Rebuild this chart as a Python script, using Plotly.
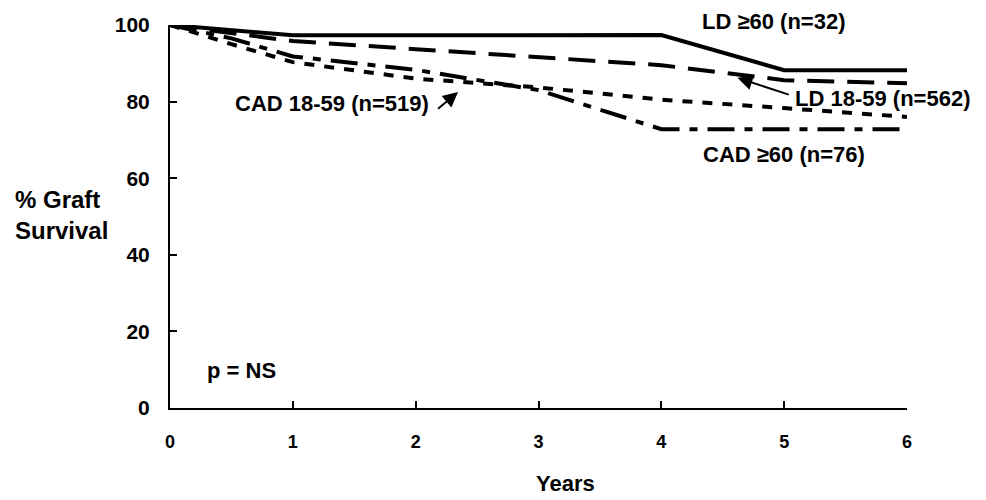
import plotly.graph_objects as go

years = [0, 0.5, 1, 2, 3, 4, 5, 6]
ld_60 = [100, 98.6, 97.3, 97.3, 97.3, 97.4, 88.2, 88.2]
ld_18_59 = [100, 97.9, 95.8, 93.7, 91.6, 89.5, 85.6, 84.8]
cad_18_59 = [100, 95.0, 90.3, 86.0, 83.7, 80.5, 78.3, 76.0]
cad_60 = [100, 96.5, 91.8, 88.3, 83.0, 72.8, 72.8, 72.8]

x_ticks = [0, 1, 2, 3, 4, 5, 6]
y_ticks = [0, 20, 40, 60, 80, 100]

FONT = "Liberation Sans"
BLACK = "#000000"

fig = go.Figure()
fig.add_trace(go.Scatter(x=years, y=ld_60, mode="lines", name="LD ≥60 (n=32)",
                         line=dict(color=BLACK, width=4)))
fig.add_trace(go.Scatter(x=years, y=ld_18_59, mode="lines", name="LD 18-59 (n=562)",
                         line=dict(color=BLACK, width=4, dash="27px,13px")))
fig.add_trace(go.Scatter(x=years, y=cad_18_59, mode="lines", name="CAD 18-59 (n=519)",
                         line=dict(color=BLACK, width=4, dash="10px,10px")))
fig.add_trace(go.Scatter(x=years, y=cad_60, mode="lines", name="CAD ≥60 (n=76)",
                         line=dict(color=BLACK, width=4, dash="27px,10px,8px,10px")))
for tr in fig.data:
    tr.cliponaxis = False

lab_font = dict(family=FONT, size=22, color=BLACK, weight="bold")
title_font = dict(family=FONT, size=24, color=BLACK, weight="bold")

anns = [
    dict(text="LD 18-59 (n=562)", x=5.80, y=80.9),
    dict(text="CAD 18-59 (n=519)", x=1.32, y=79.6),
    dict(text="CAD ≥60 (n=76)", x=5.0, y=66.1),
    dict(text="p = NS", x=0.578, y=9.9),
]
for a in anns:
    fig.add_annotation(xref="x", yref="y", showarrow=False, font=lab_font,
                       xanchor="center", yanchor="middle", **a)
fig.add_annotation(xref="paper", yref="paper", x=0.8195, y=1.008, showarrow=False,
                   text="LD ≥60 (n=32)", xanchor="center", yanchor="middle", font=lab_font)

# arrows
fig.add_annotation(xref="x", yref="y", axref="x", ayref="y", text="",
                   x=4.62, y=86.2, ax=5.05, ay=81.7, showarrow=True,
                   arrowhead=2, arrowsize=1.5, arrowwidth=2, arrowcolor=BLACK)
fig.add_annotation(xref="x", yref="y", axref="x", ayref="y", text="",
                   x=2.345, y=82.5, ax=2.17, ay=77.8, showarrow=True,
                   arrowhead=2, arrowsize=1.5, arrowwidth=2, arrowcolor=BLACK)

# axis titles
fig.add_annotation(xref="paper", yref="y", x=-0.213, y=50.4, showarrow=False,
                   text="% Graft<br>Survival", align="left", xanchor="left", yanchor="middle",
                   font=title_font)
fig.add_annotation(xref="paper", yref="paper", x=0.536, y=-0.198, showarrow=False,
                   text="Years", xanchor="center", yanchor="middle",
                   font=dict(family=FONT, size=22, color=BLACK, weight="bold"))

fig.update_layout(
    width=978, height=492,
    margin=dict(l=162, r=79, t=17, b=92),
    paper_bgcolor="white", plot_bgcolor="white",
    showlegend=False,
    font=dict(family=FONT, color=BLACK),
)
fig.update_xaxes(range=[0, 6], tickvals=x_ticks, ticktext=[str(v) for v in x_ticks],
                 automargin=False,
                 showgrid=False, zeroline=False, showline=True, linecolor=BLACK, linewidth=2,
                 ticks="inside", ticklen=7, tickwidth=1.5, tickcolor=BLACK,
                 tickfont=dict(family=FONT, size=18, color=BLACK, weight="bold"),
                 ticklabelstandoff=16)
fig.update_yaxes(range=[0, 100], tickvals=y_ticks, ticktext=[str(v) for v in y_ticks],
                 automargin=False,
                 showgrid=False, zeroline=False, showline=True, linecolor=BLACK, linewidth=2,
                 ticks="inside", ticklen=7, tickwidth=1.5, tickcolor=BLACK,
                 tickfont=dict(family=FONT, size=21, color=BLACK, weight="bold"),
                 ticklabelstandoff=14)

fig.write_html("out.html")
